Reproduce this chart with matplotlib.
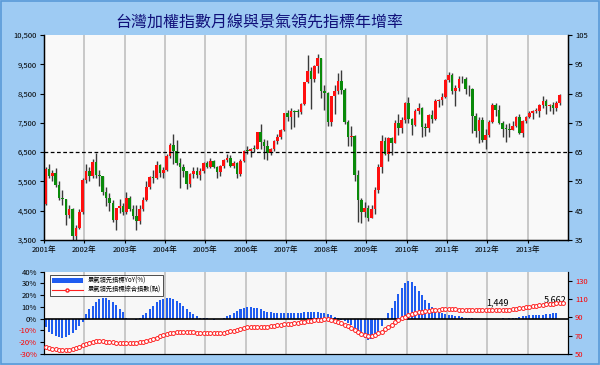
import matplotlib
matplotlib.use("Agg")
import matplotlib.pyplot as plt
import numpy as np
from matplotlib.lines import Line2D
from matplotlib.patches import Patch, Rectangle

plt.rcParams['font.family'] = ['Noto Sans CJK TC', 'DejaVu Sans']

# ---------------- 資料 ----------------
# 加權指數月線 (2001/01 ~ 2013/10)
closes = [
    5936, 5674, 5797, 5381, 4925, 4883, 4352, 4554, 3636, 3903, 4441, 5551,
    5872, 5697, 6167, 5722, 5674, 5153, 4941, 4764, 4191, 4579, 4646, 4452,
    4941, 4556, 4321, 4148, 4555, 4872, 5318, 5650, 5611, 6045, 5771, 5890,
    6375, 6750, 6522, 6117, 5977, 5839, 5420, 5765, 5845, 5706, 5844, 6139,
    5994, 6207, 6006, 5818, 6012, 6241, 6311, 6033, 6118, 5764, 6203, 6548,
    6532, 6621, 6613, 7171, 6846, 6704, 6455, 6612, 6883, 7021, 7254, 7823,
    7699, 7901, 7884, 7875, 8145, 8883, 9287, 8982, 9438, 9711, 8586, 8506,
    7521, 8412, 8572, 8919, 8619, 7523, 7024, 7046, 5719, 4870, 4460, 4591,
    4248, 4557, 5210, 5992, 6890, 6432, 6979, 6826, 7509, 7340, 7582, 8188,
    7640, 7436, 7920, 8004, 7374, 7329, 7761, 7616, 8238, 8287, 8372, 8973,
    9145, 8600, 8683, 9008, 8988, 8653, 8644, 7741, 7225, 7588, 6904, 7072,
    7517, 8121, 7933, 7501, 7301, 7296, 7270, 7397, 7715, 7166, 7580, 7699,
    7850, 7907, 7918, 8093, 8254, 8062, 8107, 8022, 8173, 8450,
]
opens = [4739] + closes[:-1]
highs = [
    6000, 6104, 5900, 5950, 5500, 5200, 4900, 4700, 4600, 4000, 4560, 5620,
    6100, 6000, 6250, 6484, 5900, 5700, 5300, 5100, 4850, 4600, 4900, 4750,
    5140, 5000, 4700, 4700, 4700, 4980, 5500, 5700, 5900, 6182, 6100, 5980,
    6450, 6800, 7135, 6900, 6300, 6100, 5850, 5800, 5980, 6000, 5960, 6150,
    6200, 6300, 6220, 6030, 6050, 6260, 6450, 6400, 6200, 6150, 6250, 6580,
    6700, 6640, 6750, 7200, 7474, 6950, 6900, 6650, 6900, 7120, 7300, 7830,
    7950, 8000, 7950, 7990, 8190, 8900, 9807, 9400, 9460, 9859, 9730, 8800,
    8550, 8420, 8800, 9200, 9309, 8700, 7600, 7400, 7100, 5900, 4950, 4800,
    4700, 4700, 5300, 6100, 7084, 7000, 7000, 7000, 7600, 7800, 7700, 8200,
    8395, 7650, 7980, 8190, 8050, 7500, 7800, 7950, 8300, 8300, 8530, 8990,
    9220, 9200, 8800, 9100, 9100, 9050, 8800, 8700, 7850, 7700, 7700, 7300,
    7600, 8170, 8180, 8100, 7550, 7450, 7500, 7550, 7750, 7800, 7610, 7750,
    7900, 7950, 8000, 8150, 8400, 8300, 8160, 8200, 8230, 8480,
]
lows = [
    4700, 5600, 5500, 5300, 4850, 4700, 4000, 4250, 3411, 3450, 3880, 4400,
    5450, 5500, 5600, 5600, 5350, 5050, 4650, 4500, 4100, 3850, 4420, 4350,
    4390, 4500, 4200, 3845, 4050, 4500, 4820, 5250, 5450, 5590, 5650, 5600,
    5850, 6300, 6100, 6050, 5270, 5650, 5250, 5300, 5620, 5630, 5540, 5800,
    5950, 5950, 5950, 5630, 5700, 5950, 6150, 5980, 5950, 5620, 5700, 6150,
    6420, 6350, 6500, 6600, 6610, 6250, 6230, 6400, 6550, 6780, 6960, 7220,
    7580, 7300, 7350, 7700, 7800, 8100, 8860, 7987, 8900, 9200, 8350, 7950,
    7384, 7400, 7800, 8500, 8500, 7450, 6700, 6700, 5500, 4110, 4089, 4300,
    4164, 4240, 4400, 5100, 5800, 6400, 6200, 6400, 6800, 7100, 7170, 7500,
    7500, 7080, 7400, 7800, 7000, 7050, 7200, 7500, 7600, 8050, 8100, 8350,
    8900, 8500, 8070, 8600, 8850, 8500, 8400, 7150, 7000, 6800, 6850, 6609,
    7000, 7500, 7750, 7450, 7000, 6860, 7000, 7250, 7350, 7120, 7000, 7500,
    7650, 7620, 7840, 7700, 8000, 7800, 7900, 7800, 7900, 8120,
]

# 景氣領先指標年增率 (%) 2001/01 ~ 2013/09
yoy = [
    -7, -11, -13, -14.5, -15.5, -16, -15.5, -14, -12, -9.5, -6.5, -3,
    4, 8.5, 11, 14.5, 16.5, 17.5, 17.5, 16, 14, 11.5, 8.5, 5.5,
    0.5, 0, -0.5, -1, 0.5, 3, 5, 8.5, 11, 14, 16, 17,
    17.5, 17.5, 17, 15, 13, 11, 8, 6, 4, 2, 1, 0.3,
    0.3, -0.5, -0.8, -0.5, 0, 1, 2, 3.5, 5, 6.5, 8, 9,
    10, 10, 9.5, 9, 8, 7, 6, 5.5, 5, 4.5, 4.5, 4.5,
    4.5, 4.5, 5, 5, 5, 5.5, 5.5, 5.5, 6, 5.5, 5, 4.5,
    4, 3, 1.5, 0.5, -1, -2, -3.5, -5.5, -8, -11, -14, -16.5,
    -18.5, -17.5, -15, -11, -6, -1, 4.5, 9, 15, 21, 26, 30.5,
    32.5, 31, 28, 24, 20, 16, 13, 10, 8, 6.5, 5, 4,
    3.5, 3, 2.5, 2, 1.5, 1, 0.5, 0.3, 0, -0.2, -0.3, -0.3,
    -0.3, -0.2, 0, 0.2, 0.3, -0.2, 0.3, 0.5, 1, 1.5, 2, 2.5,
    3, 3.5, 3.5, 3.5, 3.5, 4, 4, 4.5, 5,
]

# 景氣領先指標綜合指數 (點) 2001/01 ~ 2013/11
lead_idx = [
    58, 57, 56, 55, 54.5, 54.3, 54.3, 54.5, 55.5, 56.5, 58, 59.5,
    61, 62.5, 63.5, 64, 64.3, 64, 63.5, 63, 62.8, 62.5, 62.3, 62.3,
    62.3, 62.3, 62.5, 62.5, 62.8, 63.5, 64.5, 65.5, 66.5, 68, 69.5, 70.5,
    71.5, 72.5, 73.5, 74, 74.3, 74.3, 74.3, 74, 73.8, 73.5, 73.3, 73.2,
    73.2, 73, 73, 73, 73.2, 73.5, 74, 74.8, 75.5, 76.5, 77.5, 78.3,
    79, 79.5, 79.7, 79.8, 79.8, 79.8, 80, 80.3, 80.8, 81.3, 81.8, 82.3,
    82.7, 83.2, 83.7, 84.2, 84.7, 85.2, 85.7, 86.2, 86.7, 87.2, 87.6, 87.8,
    87.8, 87.2, 86.2, 85, 83.5, 82, 80.3, 78.5, 76.5, 74.3, 72, 70.3,
    69.6, 69.8, 70.8, 72.5, 74.5, 77, 79.5, 82, 84.5, 87, 89.2, 91,
    92.5, 93.7, 94.7, 95.5, 96.2, 96.8, 97.3, 97.8, 98.2, 98.5, 98.7, 98.8,
    98.8, 98.8, 98.7, 98.5, 98.4, 98.3, 98.2, 98.1, 98, 98, 97.9, 97.9,
    97.9, 98, 98, 98.2, 98.4, 98.5, 98.6, 98.8, 99.2, 99.8, 100.4, 101,
    101.6, 102.2, 102.8, 103.3, 103.8, 104.2, 104.6, 105, 105.4, 105.8, 106.2,
]

years = list(range(2001, 2014))
year_labels = [f"{y}年" for y in years]

# ---------------- 繪圖 ----------------
BG = '#9ecbf3'
fig = plt.figure(figsize=(6, 3.65), dpi=100, facecolor=BG)
fig.patches.append(Rectangle((0.002, 0.003), 0.996, 0.994, transform=fig.transFigure,
                             fill=False, edgecolor='#5a9ad8', lw=1.2))

fig.text(0.433, 0.937, "台灣加權指數月線與景氣領先指標年增率", ha='center', va='center',
         fontsize=11.5, color='#10107a')

# 上圖: K 線
ax = fig.add_axes([0.0733, 0.3425, 0.8734, 0.5616], facecolor='#f9f9f9')
t = 2001 + (np.arange(len(closes)) + 0.5) / 12
o = np.array(opens, float)
c = np.array(closes, float)
h = np.maximum(np.array(highs, float), np.maximum(o, c))
l = np.minimum(np.array(lows, float), np.minimum(o, c))
up = c >= o
ax.vlines(t, l, h, color='#3a3a3a', lw=1.0, zorder=2)
body_low = np.minimum(o, c)
body_h = np.maximum(np.abs(c - o), 25)
ax.bar(t[up], body_h[up], bottom=body_low[up], width=0.065, color='#ff1010', zorder=3)
ax.bar(t[~up], body_h[~up], bottom=body_low[~up], width=0.065, color='#0a8a0a', zorder=3)
ax.axhline(6500, color='black', lw=0.9, ls=(0, (3, 2)), zorder=4)

ax.set_xlim(2001, 2014)
ax.set_ylim(3500, 10500)
ax.set_yticks(range(3500, 10501, 1000))
ax.set_yticklabels([f"{v:,}" for v in range(3500, 10501, 1000)])
ax.set_xticks(years)
ax.set_xticklabels(year_labels)
for yv in years[1:]:
    ax.axvline(yv, color='#c8c8c8', lw=1.4, zorder=1)
ax.spines['top'].set_visible(False)
for s in ['left', 'bottom', 'right']:
    ax.spines[s].set_color('black')
    ax.spines[s].set_linewidth(1.0)
ax.tick_params(axis='both', labelsize=5.5, length=3, width=0.8, pad=2)
ax.tick_params(axis='x', length=2)

axr = ax.twinx()
axr.set_ylim(35, 105)
axr.set_yticks(range(35, 106, 10))
axr.tick_params(axis='y', labelsize=5.5, length=3, width=0.8, pad=2)
axr.spines['top'].set_visible(False)

# 下圖: 領先指標
bx = fig.add_axes([0.0733, 0.0301, 0.8734, 0.2255], facecolor='#f7f7f7')
tb = 2001 + (np.arange(len(yoy)) + 0.5) / 12
bx.bar(tb, yoy, width=0.05, color='#1f5cf0', zorder=2)
bx.axhline(0, color='black', lw=1.2, zorder=3)
for yv in years[1:]:
    bx.axvline(yv, color='#c8c8c8', lw=1.4, zorder=1)
bx.set_xlim(2001, 2014)
bx.set_ylim(-30, 40)
bx.set_yticks(range(-30, 41, 10))
bx.set_yticklabels([f"{v}%" for v in range(-30, 41, 10)])
for lab, v in zip(bx.get_yticklabels(), range(-30, 41, 10)):
    lab.set_color('red' if v < 0 else 'black')
bx.set_xticks([])
bx.spines['top'].set_visible(False)
bx.tick_params(axis='y', labelsize=5.5, length=3, width=0.8, pad=2)

bxr = bx.twinx()
tl = 2001 + (np.arange(len(lead_idx)) + 0.5) / 12
bxr.plot(tl, lead_idx, color='#ff2020', lw=0.8, marker='o', ms=2.8,
         mfc='white', mec='#ff2020', mew=0.7, zorder=4)
bxr.set_ylim(50, 140)
bxr.set_yticks(range(50, 131, 20))
bxr.tick_params(axis='y', labelsize=5.5, length=3, width=0.8, pad=2)
for lab in bxr.get_yticklabels():
    lab.set_color('red')
bxr.spines['top'].set_visible(False)
bxr.text(2012.24, 105.6, "1,449", fontsize=6.5, ha='center', va='center')
bxr.text(2013.68, 108.9, "5,662", fontsize=6.5, ha='center', va='center')

handles = [Patch(facecolor='#1f5cf0', edgecolor='none'),
           Line2D([0], [0], color='#ff2020', lw=0.8, marker='o', ms=2.2,
                  mfc='white', mec='#ff2020')]
leg = bxr.legend(handles, ["景氣領先指標YoY(%)", "景氣領先指標綜合指數(點)"],
                 loc='upper left', bbox_to_anchor=(0.005, 1.0), fontsize=4.5,
                 frameon=True, fancybox=False, edgecolor='black',
                 handlelength=5, handleheight=0.8, borderpad=0.3, labelspacing=0.2)
leg.get_frame().set_linewidth(0.6)

fig.savefig("out.png", dpi=100, facecolor=BG)
